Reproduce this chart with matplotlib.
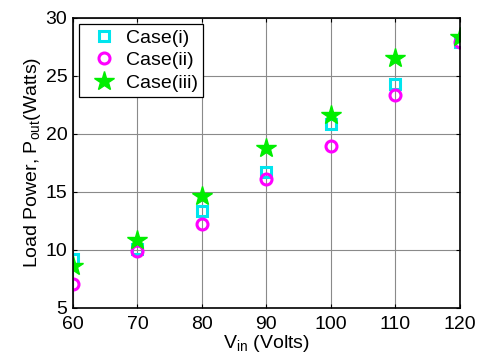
import matplotlib
matplotlib.use("Agg")
import matplotlib.pyplot as plt

plt.rcParams['font.family'] = ['Liberation Sans', 'DejaVu Sans']
plt.rcParams['mathtext.fontset'] = 'custom'
plt.rcParams['mathtext.rm'] = 'Liberation Sans'
plt.rcParams['mathtext.it'] = 'Liberation Sans'

# data
v_in = [60, 70, 80, 90, 100, 110, 120]
case_i = [9.2, 10.1, 13.3, 16.7, 20.8, 24.3, 27.9]
case_ii = [7.0, 9.9, 12.2, 16.1, 18.9, 23.3, 27.9]
case_iii = [8.6, 10.8, 14.6, 18.8, 21.6, 26.5, 28.3]

x_ticks = [60, 70, 80, 90, 100, 110, 120]
y_ticks = [5, 10, 15, 20, 25, 30]

fig = plt.figure(figsize=(4.8, 3.58), dpi=100)
ax = fig.add_axes([0.152, 0.1405, 0.806, 0.8105])

ax.plot(v_in, case_i, linestyle='none', marker='s', markersize=7.2,
        markerfacecolor='none', markeredgecolor='#00e5ee', markeredgewidth=2.2,
        label='Case(i)')
ax.plot(v_in, case_ii, linestyle='none', marker='o', markersize=7.9,
        markerfacecolor='none', markeredgecolor='#ff00ff', markeredgewidth=2.2,
        label='Case(ii)')
ax.plot(v_in, case_iii, linestyle='none', marker='*', markersize=15,
        color='#00ee00', markeredgecolor='#00ee00',
        label='Case(iii)')

ax.set_xlim(60, 120)
ax.set_ylim(5, 30)
ax.set_xticks(x_ticks)
ax.set_yticks(y_ticks)
ax.tick_params(direction='in', top=True, right=True, labelsize=14,
               length=3, width=0.8)
ax.tick_params(axis='x', pad=6)
ax.tick_params(axis='y', pad=4)
ax.grid(True, color='#8a8a8a', linewidth=0.8)
for s in ax.spines.values():
    s.set_linewidth(1.2)

ax.set_xlabel(r'V$_\mathregular{in}$ (Volts)', fontsize=14, labelpad=0)
ax.set_ylabel(r'Load Power, P$_\mathregular{out}$(Watts)', fontsize=14, labelpad=2)

leg = ax.legend(loc='upper left', bbox_to_anchor=(0.0155, 0.978), fontsize=14,
                numpoints=1, handlelength=2.0, handletextpad=0.15,
                borderpad=0.27, labelspacing=0.25, fancybox=False,
                framealpha=1, edgecolor='black', borderaxespad=0)
leg.get_frame().set_linewidth(0.9)

plt.savefig('out.png', dpi=100)
